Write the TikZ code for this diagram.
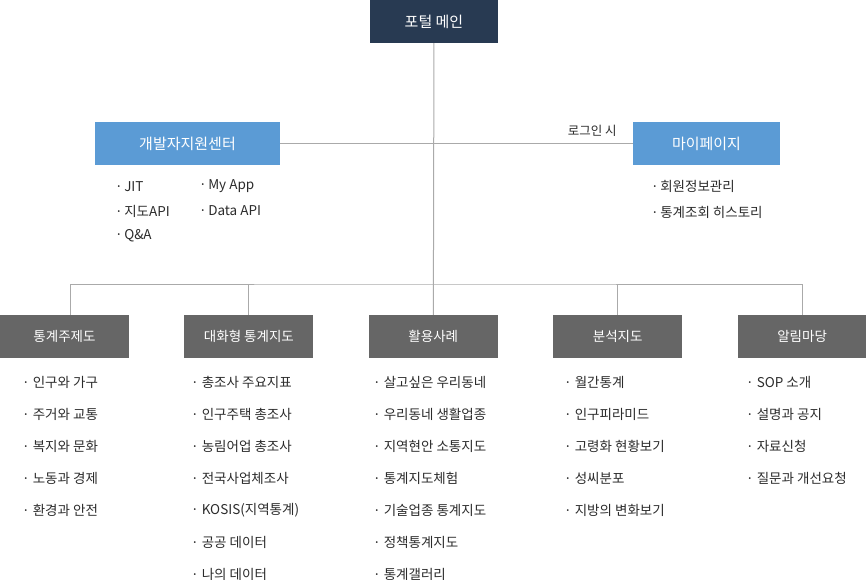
\documentclass[tikz,border=0pt]{standalone}
\usepackage{fontspec}
\setmainfont{Noto Sans CJK KR}
\usetikzlibrary{positioning}
\definecolor{portalnavy}{HTML}{283A52}
\definecolor{menublue}{HTML}{5B9BD5}
\definecolor{menugray}{HTML}{666666}
\definecolor{linegray}{HTML}{AAAAAA}
\definecolor{itemtext}{HTML}{2B2B2B}

\begin{document}
\begin{tikzpicture}[
    x=1pt, y=-1pt,
    node distance=0pt and 55pt,
    every node/.style={font=\fontsize{13.5}{16}\selectfont, text=itemtext},
    mainbox/.style={
        fill=portalnavy, rectangle,
        minimum width=128pt, minimum height=43pt,
        text=white, font=\fontsize{15}{17}\selectfont
    },
    subbox/.style={
        fill=menublue, rectangle,
        minimum height=43pt,
        text=white, font=\fontsize{15}{17}\selectfont
    },
    menubox/.style={
        fill=menugray, rectangle,
        minimum width=129pt, minimum height=43pt,
        text=white, font=\fontsize{13.5}{16}\selectfont
    },
    item/.style={anchor=west, inner sep=0pt},
    link/.style={draw=linegray, line width=1pt}
]
\useasboundingbox (0,0) rectangle (866,579);

\node[mainbox] (portal) at (434,21.5) {포털 메인};
\node[subbox, minimum width=185pt] (dev) at (187.5,143.5) {개발자지원센터};
\node[subbox, minimum width=147pt] (mypage) at (706.5,143.5) {마이페이지};

\node[menubox] (m1) at (64.5,336.5) {통계주제도};
\node[menubox, right=of m1] (m2) {대화형 통계지도};
\node[menubox, right=of m2] (m3) {활용사례};
\node[menubox, right=of m3] (m4) {분석지도};
\node[menubox, right=of m4] (m5) {알림마당};

\coordinate (bus) at (434,284);
\coordinate (m1top) at ([xshift=5.5pt]m1.north);

% connectors
\draw[link] (portal) -- (m3);
\draw[link] (dev) -- node[pos=0.885, above=3pt, font=\fontsize{12.5}{14}\selectfont] (login) {로그인 시} (mypage);
\draw[link] (m1top) |- (bus) -| (m5.north);
\draw[link] (m2.north) -- (m2.north |- bus);
\draw[link] (m4.north) -- (m4.north |- bus);

% developer center items
\foreach \txt [count=\i] in {JIT, 지도API, Q\&A}
  \node[item] (d1-\i) at (115,162+24.5*\i) {·\kern1.5pt\txt};
\foreach \txt [count=\i] in {My App, Data API}
  \node[item] (d2-\i) at (199,162+24.5*\i) {·\kern1.5pt\txt};

% my page items
\foreach \txt [count=\i] in {회원정보관리, 통계조회 히스토리}
  \node[item] (p-\i) at (651,160+26*\i) {·\kern1.5pt\txt};

% menu items
\foreach \txt [count=\i] in {인구와 가구, 주거와 교통, 복지와 문화, 노동과 경제, 환경과 안전}
  \node[item] (a1-\i) at (22,350+32*\i) {·~\txt};
\foreach \txt [count=\i] in {총조사 주요지표, 인구주택 총조사, 농림어업 총조사, 전국사업체조사, KOSIS(지역통계), 공공 데이터, 나의 데이터}
  \node[item] (a2-\i) at (191,350+32*\i) {·~\txt};
\foreach \txt [count=\i] in {살고싶은 우리동네, 우리동네 생활업종, 지역현안 소통지도, 통계지도체험, 기술업종 통계지도, 정책통계지도, 통계갤러리}
  \node[item] (a3-\i) at (373,350+32*\i) {·~\txt};
\foreach \txt [count=\i] in {월간통계, 인구피라미드, 고령화 현황보기, 성씨분포, 지방의 변화보기}
  \node[item] (a4-\i) at (564,350+32*\i) {·~\txt};
\foreach \txt [count=\i] in {SOP 소개, 설명과 공지, 자료신청, 질문과 개선요청}
  \node[item] (a5-\i) at (746,350+32*\i) {·~\txt};
\end{tikzpicture}
\end{document}
